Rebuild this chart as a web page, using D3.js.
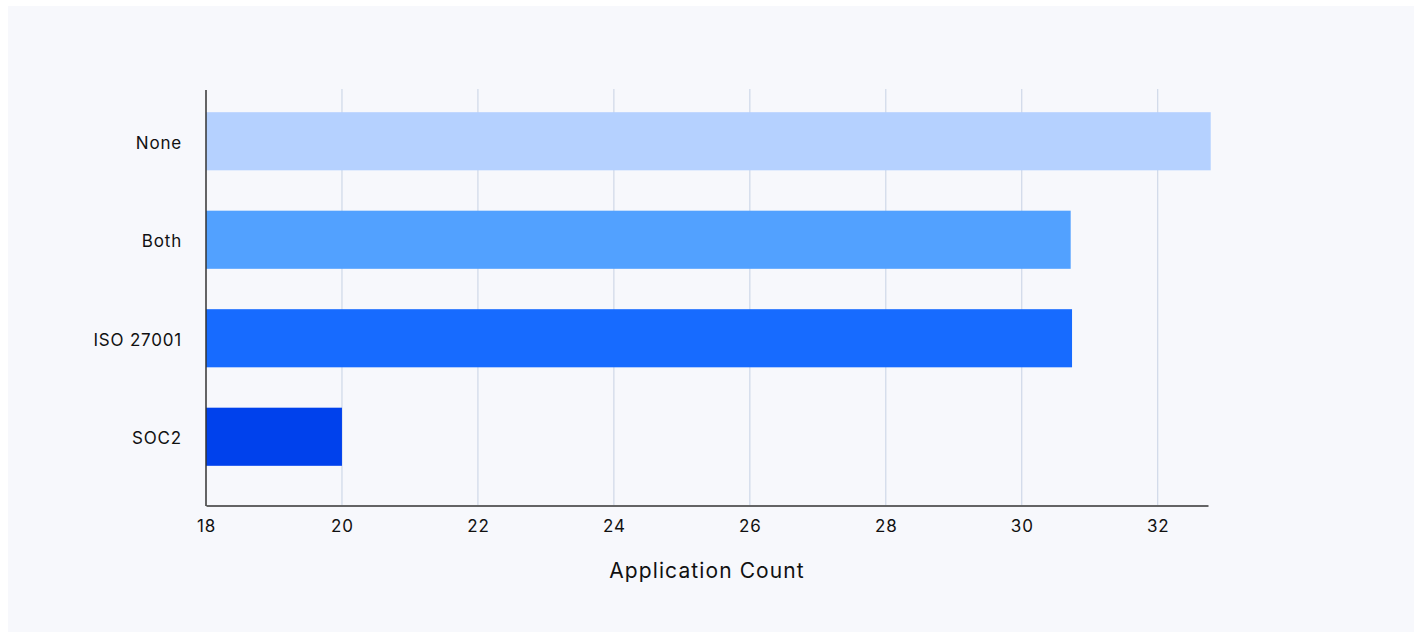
<!DOCTYPE html>
<html>
<head>
<meta charset="utf-8">
<script src="https://cdn.jsdelivr.net/npm/d3@7"></script>
<style>
  body { margin: 0; background: #fff; }
  svg { display: block; font-family: Inter, "Noto Sans", sans-serif; }
</style>
</head>
<body>
<div id="chart"></div>
<script>
// data
var categories = ["None", "Both", "ISO 27001", "SOC2"];
var counts = [32.78, 30.72, 30.74, 20];
var barColors = ["#b5d1ff", "#52a1ff", "#176bff", "#0041ec"];
var xTicks = [18, 20, 22, 24, 26, 28, 30, 32];

var width = 1418, height = 634;
var svg = d3.select("#chart").append("svg").attr("width", width).attr("height", height);

// panel background
svg.append("rect").attr("x", 8).attr("y", 6).attr("width", 1406).attr("height", 626).attr("fill", "#f7f8fc");

var x = d3.scaleLinear().domain([18, 32.74]).range([206, 1208]);
var y = d3.scaleBand().domain(categories).range([92, 486]).paddingInner(0.41).paddingOuter(0.205);

// gridlines
svg.append("g").selectAll("line").data(xTicks.slice(1)).join("line")
  .attr("x1", d => x(d)).attr("x2", d => x(d))
  .attr("y1", 89).attr("y2", 505)
  .attr("stroke", "#cfd8e8").attr("stroke-width", 1.2);

// bars
svg.append("g").selectAll("rect").data(categories).join("rect")
  .attr("x", x(18))
  .attr("y", d => y(d))
  .attr("width", (d, i) => x(counts[i]) - x(18))
  .attr("height", y.bandwidth())
  .attr("fill", (d, i) => barColors[i]);

// x axis
var xAxis = svg.append("g").attr("transform", "translate(0,505.5)")
  .call(d3.axisBottom(x).tickValues(xTicks).tickSize(0).tickPadding(14));
xAxis.select(".domain").attr("stroke", "#333").attr("stroke-width", 1.5);
xAxis.selectAll("text").attr("font-size", 17).attr("letter-spacing", 0.8)
  .attr("fill", "#111").attr("font-family", "Inter, sans-serif");

// y axis
var yAxis = svg.append("g").attr("transform", "translate(206,0)")
  .call(d3.axisLeft(y).tickSize(0).tickPadding(24));
yAxis.select(".domain").attr("d", "M0,90V506").attr("stroke", "#333").attr("stroke-width", 1.5);
yAxis.selectAll("text").attr("font-size", 17).attr("letter-spacing", 0.8).attr("dy", "0.45em")
  .attr("fill", "#111").attr("font-family", "Inter, sans-serif");

// axis title
svg.append("text").attr("x", 707).attr("y", 578).attr("text-anchor", "middle")
  .attr("font-size", 21).attr("letter-spacing", 1.1).attr("fill", "#111").text("Application Count");
</script>
</body>
</html>
